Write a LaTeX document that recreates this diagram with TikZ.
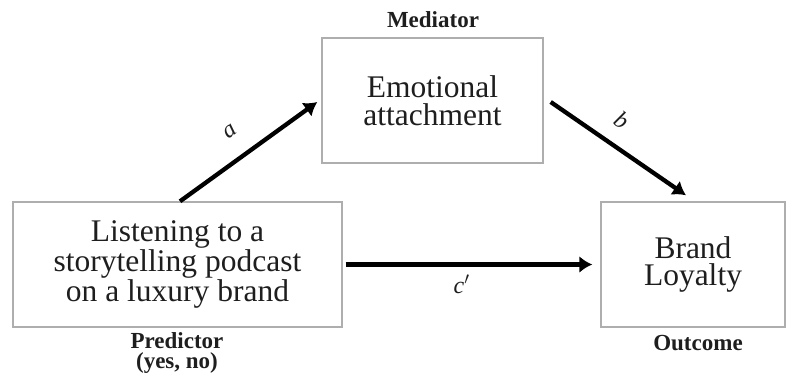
\documentclass[tikz,border=0pt]{standalone}
\usepackage{fontspec}
\setmainfont{Liberation Serif}
\usetikzlibrary{arrows.meta}
\definecolor{boxgray}{HTML}{AEAEAE}
\definecolor{ink}{HTML}{1E1E1E}
\tikzset{
  box/.style={draw=boxgray, line width=1.4pt, inner sep=0pt, text=ink,
    font=\fontsize{31.5}{27.5}\selectfont, align=center},
  role/.style={font=\fontsize{23}{20}\selectfont\bfseries, align=center, text=ink, inner sep=0pt},
  patharrow/.style={line width=4.3pt, draw=black, -{Latex[length=13pt,width=17pt]}},
  coef/.style={font=\fontsize{24}{24}\selectfont\itshape, inner sep=0pt, text=ink}
}
\begin{document}
\begin{tikzpicture}[x=1pt,y=-1pt]
  \useasboundingbox (0,0) rectangle (788,375);

  % variables
  \node[box, minimum width=221pt, minimum height=125pt] (med) at (432.5,100.5)
    {Emotional\\attachment};
  \node[box, minimum width=329pt, minimum height=125pt] (pred) at (177.5,264.5)
    {Listening to a\\storytelling podcast\\on a luxury brand};
  \node[box, minimum width=184pt, minimum height=125pt] (out) at (693,264.5)
    {Brand\\Loyalty};

  % roles
  \node[role] (medrole) at (433,20) {Mediator};
  \node[role] (predrole) at (177,353) {Predictor\\(yes, no)};
  \node[role] (outrole) at (698,343) {Outcome};

  % paths
  \draw[patharrow] ([xshift=2.5pt]pred.north) -- ([xshift=-4pt,yshift=-1.5pt]med.west)
    node[coef, pos=.48, sloped, above=19.5pt] {a};
  \draw[patharrow] ([xshift=7pt,yshift=-1.5pt]med.east) -- ([xshift=-7pt,yshift=6pt]out.north)
    node[coef, pos=.42, sloped, above=15.5pt] {b};
  \draw[patharrow] ([xshift=3pt]pred.east) -- ([xshift=-8pt]out.west)
    node[coef, pos=.47, anchor=base, yshift=-29pt] {c$'$};
\end{tikzpicture}
\end{document}
